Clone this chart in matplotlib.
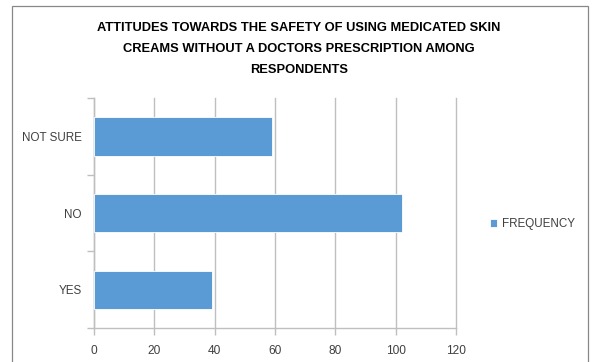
import matplotlib.pyplot as plt
from matplotlib.patches import Rectangle

categories = ['YES', 'NO', 'NOT SURE']
frequency = [39, 102, 59]
x_ticks = [0, 20, 40, 60, 80, 100, 120]

title = ('ATTITUDES TOWARDS THE SAFETY OF USING MEDICATED SKIN\n'
         'CREAMS WITHOUT A DOCTORS PRESCRIPTION AMONG\n'
         'RESPONDENTS')

bar_color = '#5B9BD5'
grid_color = '#BFBFBF'
text_color = '#404040'

plt.rcParams['font.family'] = ['Liberation Sans', 'DejaVu Sans']

fig = plt.figure(figsize=(5.92, 3.62), dpi=100)

# outer chart frame
fig.patches.append(Rectangle((12 / 592, -0.05), (588 - 12) / 592, 1.05 - 6 / 362,
                             transform=fig.transFigure, fill=False,
                             edgecolor='#888888', linewidth=0.9))

ax = fig.add_axes([94 / 592, 1 - 328 / 362, (456 - 94) / 592, (328 - 98) / 362])

pos = range(len(categories))
ax.barh(pos, frequency, height=0.5, color=bar_color, edgecolor='white',
        linewidth=0.6, label='FREQUENCY', zorder=3)

ax.set_xlim(0, 120)
ax.set_ylim(-0.5, len(categories) - 0.5)
ax.set_xticks(x_ticks)
ax.set_yticks(list(pos))
ax.set_yticklabels(categories)
ax.set_yticks([-0.5, 0.5, 1.5, 2.5], minor=True)

ax.grid(axis='x', color=grid_color, linewidth=1.0, zorder=0)
# keep the last grid line at 120 fully visible on the axes edge
for line in ax.get_xgridlines():
    line.set_clip_on(False)
for side in ['top', 'right']:
    ax.spines[side].set_visible(False)
for side in ['left', 'bottom']:
    ax.spines[side].set_color(grid_color)
    ax.spines[side].set_linewidth(1.0)

ax.tick_params(axis='x', colors=grid_color, length=5, width=1.0,
               labelcolor=text_color, labelsize=8.6, pad=7)
ax.tick_params(axis='y', which='major', length=0, labelcolor=text_color,
               labelsize=8.4, pad=9)
ax.tick_params(axis='y', which='minor', length=5, width=1.0, color=grid_color)

fig.text(0.505, 1 - 22 / 362, title, ha='center', va='top', fontsize=9.3,
         fontweight='bold', color='black', linespacing=2.0)

fig.legend(loc='center left', bbox_to_anchor=(479 / 592, 1 - 224 / 362),
           frameon=False, fontsize=8.4, handlelength=0.65, handleheight=0.65,
           handletextpad=0.4, labelcolor=text_color)

fig.savefig('out.png', dpi=100)
